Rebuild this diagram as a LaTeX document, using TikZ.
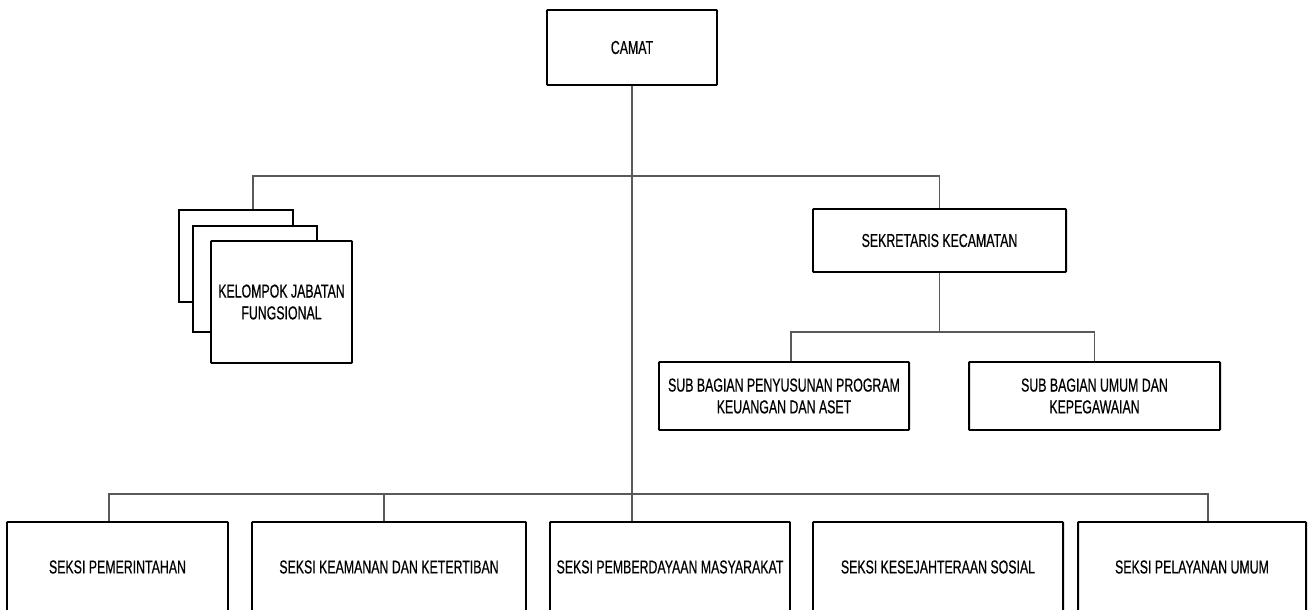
\documentclass[tikz,border=0pt]{standalone}
\usepackage{fontspec}
\setmainfont{Liberation Sans}[FakeStretch=0.66,FakeBold=0.5]
\usetikzlibrary{positioning}

\newcommand{\pxl}{0.025cm}
\tikzset{
	kotak/.style={draw,line width=1.4pt,rounded corners=0.6pt,align=center,inner sep=0pt,
		font=\fontsize{13.3}{15.5}\selectfont},
	tipis/.style={draw,line width=0.75pt},
	garis/.style={draw=black!65,line width=0.75pt},
	ukuran/.style 2 args={minimum width=#1*\pxl,minimum height=#2*\pxl}
}

\begin{document}
\begin{tikzpicture}[x=\pxl,y=-\pxl]
			\useasboundingbox (0,0) rectangle (1312,610);
			\clip (0,0) rectangle (1312,610);
			% Kotak pimpinan
			\node[kotak,ukuran={170}{75}] (camat) at (632,47.5) {CAMAT};
			\node[kotak,ukuran={253}{63}] (sek) at (939.5,240.5) {SEKRETARIS KECAMATAN};
			\node[kotak,ukuran={250}{68}] (sub1) at (784,396) {SUB BAGIAN PENYUSUNAN PROGRAM\\KEUANGAN DAN ASET};
			\node[kotak,ukuran={251}{68}] (sub2) at (1094.5,396) {SUB BAGIAN UMUM DAN\\KEPEGAWAIAN};
			% Kelompok jabatan fungsional (bertumpuk)
			\node[tipis,fill=white,ukuran={114}{92}] (kjf3) at (236,256) {};
			\node[tipis,fill=white,ukuran={124}{106}] (kjf2) at (255,279) {};
			\node[kotak,fill=white,ukuran={141}{122}] (kjf1) at (281.5,302) {KELOMPOK JABATAN\\FUNGSIONAL};
			% Kotak seksi
			\foreach \nama/\cx/\w/\teks in {b1/117.5/221/SEKSI PEMERINTAHAN,
				b2/389/274/SEKSI KEAMANAN DAN KETERTIBAN,
				b3/670/240/SEKSI PEMBERDAYAAN MASYARAKAT,
				b4/938/250/SEKSI KESEJAHTERAAN SOSIAL,
				b5/1192/228/SEKSI PELAYANAN UMUM}
			\node[kotak,ukuran={\w}{90}] (\nama) at (\cx,567) {\teks};
			% Garis penghubung
			\coordinate (tki) at (253,176);
			\coordinate (tgh) at (791,332);
			\coordinate (k1) at (109,494);
			\coordinate (k2) at (384,494);
			\coordinate (k5) at (1208,494);
			\draw[garis] (camat.south) -- (camat.south |- b3.north);
			\draw[garis] (tki |- kjf3.north) -- (tki) -- (tki -| sek.north) -- (sek.north);
			\draw[garis] (sek.south) -- (sek.south |- tgh);
			\draw[garis] (tgh |- sub1.north) -- (tgh) -| (sub2.north);
			\draw[garis] (k1 |- b1.north) -- (k1) -- (k5) -- (k5 |- b5.north);
			\draw[garis] (k2) -- (k2 |- b2.north);
		\end{tikzpicture}
\end{document}
